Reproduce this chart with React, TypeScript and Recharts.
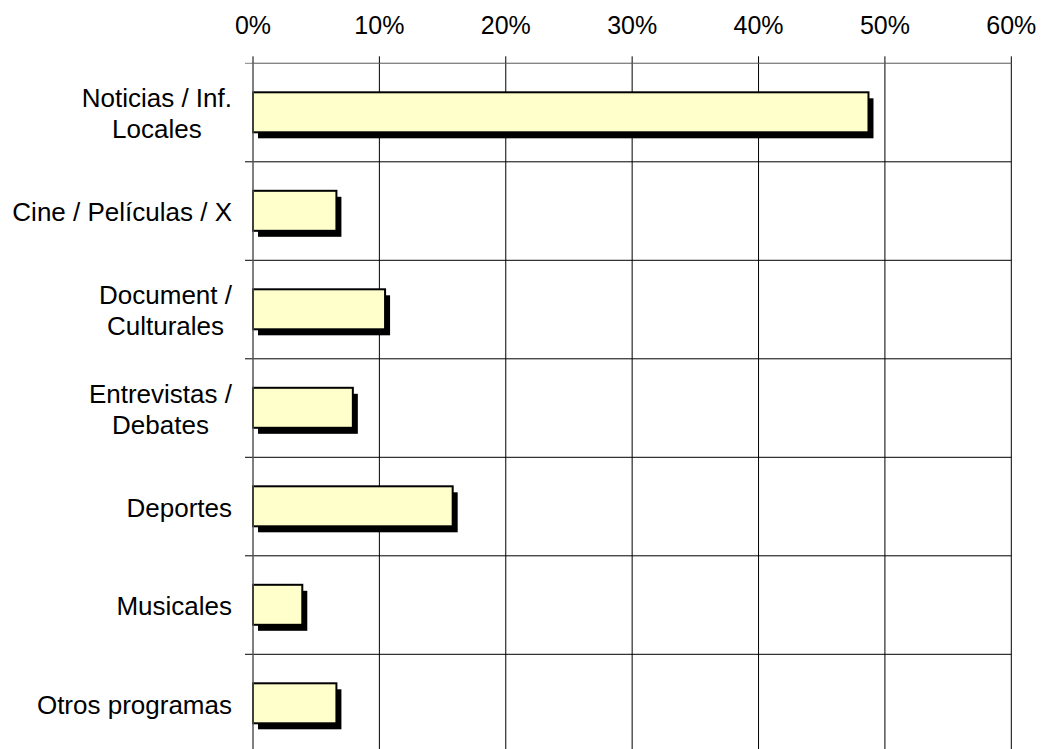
import { Bar, BarChart, CartesianGrid, XAxis, YAxis } from "recharts";

const categories = [
  "Noticias / Inf.\nLocales",
  "Cine / Películas / X",
  "Document /\nCulturales",
  "Entrevistas /\nDebates",
  "Deportes",
  "Musicales",
  "Otros programas",
];
const shares = [48.7, 6.6, 10.45, 7.9, 15.8, 3.9, 6.6];
const percentTicks = [0, 10, 20, 30, 40, 50, 60];

const data = categories.map((name, i) => ({ name, value: shares[i] }));

const FONT = '"Liberation Sans", Arial, sans-serif';
const LABEL_SIZE = 26;
const LINE_GAP = 31;

let ctx: CanvasRenderingContext2D | null = null;
function textWidth(s: string) {
  if (!ctx) ctx = document.createElement("canvas").getContext("2d");
  if (!ctx) return s.length * LABEL_SIZE * 0.5;
  ctx.font = `${LABEL_SIZE}px ${FONT}`;
  return ctx.measureText(s).width;
}

function CategoryTick(props: any) {
  const { x, y, payload } = props;
  const lines = String(payload.value).split("\n");
  const w = Math.max(...lines.map(textWidth));
  const cx = x - w / 2;
  return (
    <g>
      {lines.map((line, i) => (
        <text
          key={i}
          x={cx}
          y={y + (i - (lines.length - 1) / 2) * LINE_GAP + 10}
          textAnchor="middle"
          fontSize={LABEL_SIZE}
          fontFamily={FONT}
          fill="#000"
        >
          {line}
        </text>
      ))}
    </g>
  );
}

function PercentTick(props: any) {
  const { x, y, payload } = props;
  return (
    <text x={x} y={y} textAnchor="middle" fontSize={25} fontFamily={FONT} fill="#000">
      {payload.value}%
    </text>
  );
}

function ShadowBar(props: any) {
  const { x, y, width, height } = props;
  return (
    <g>
      <rect x={x + 5} y={y + 6} width={width} height={height} fill="#000" />
      <rect x={x} y={y} width={width} height={height} fill="#FFFFCC" stroke="#000" strokeWidth={2} />
    </g>
  );
}

function GridRow(props: any) {
  const { x1, x2, y1, y2, index } = props;
  return (
    <line
      key={props.key}
      x1={x1 - 8}
      x2={x2}
      y1={y1}
      y2={y2}
      stroke={index === 0 ? "#808080" : "#000"}
      strokeWidth={1}
    />
  );
}

export default function App() {
  return (
    <div
      style={{
        position: "absolute",
        left: 0,
        top: 0,
        width: 1044,
        height: 749,
        overflow: "hidden",
        background: "#fff",
      }}
    >
      <BarChart
        width={1044}
        height={760}
        layout="vertical"
        data={data}
        margin={{ top: 0, right: 32.7, bottom: 7.2, left: 0 }}
      >
        <CartesianGrid
          stroke="#000"
          vertical={true}
          horizontal={GridRow}
          horizontalCoordinatesGenerator={({ offset }: any) =>
            categories
              .map((_, i) => offset.top + (i * offset.height) / categories.length)
              .concat([offset.top + offset.height])
          }
        />
        <XAxis
          type="number"
          orientation="top"
          domain={[0, 60]}
          ticks={percentTicks}
          height={63.3}
          tickSize={7}
          tickMargin={22}
          tick={<PercentTick />}
          tickLine={{ stroke: "#000" }}
          axisLine={{ stroke: "#808080" }}
          interval={0}
        />
        <YAxis
          type="category"
          dataKey="name"
          width={253}
          tickSize={0}
          tickMargin={21}
          tickLine={false}
          axisLine={{ stroke: "#808080" }}
          tick={<CategoryTick />}
          interval={0}
        />
        <Bar dataKey="value" barSize={40} shape={<ShadowBar />} isAnimationActive={false} />
      </BarChart>
    </div>
  );
}
